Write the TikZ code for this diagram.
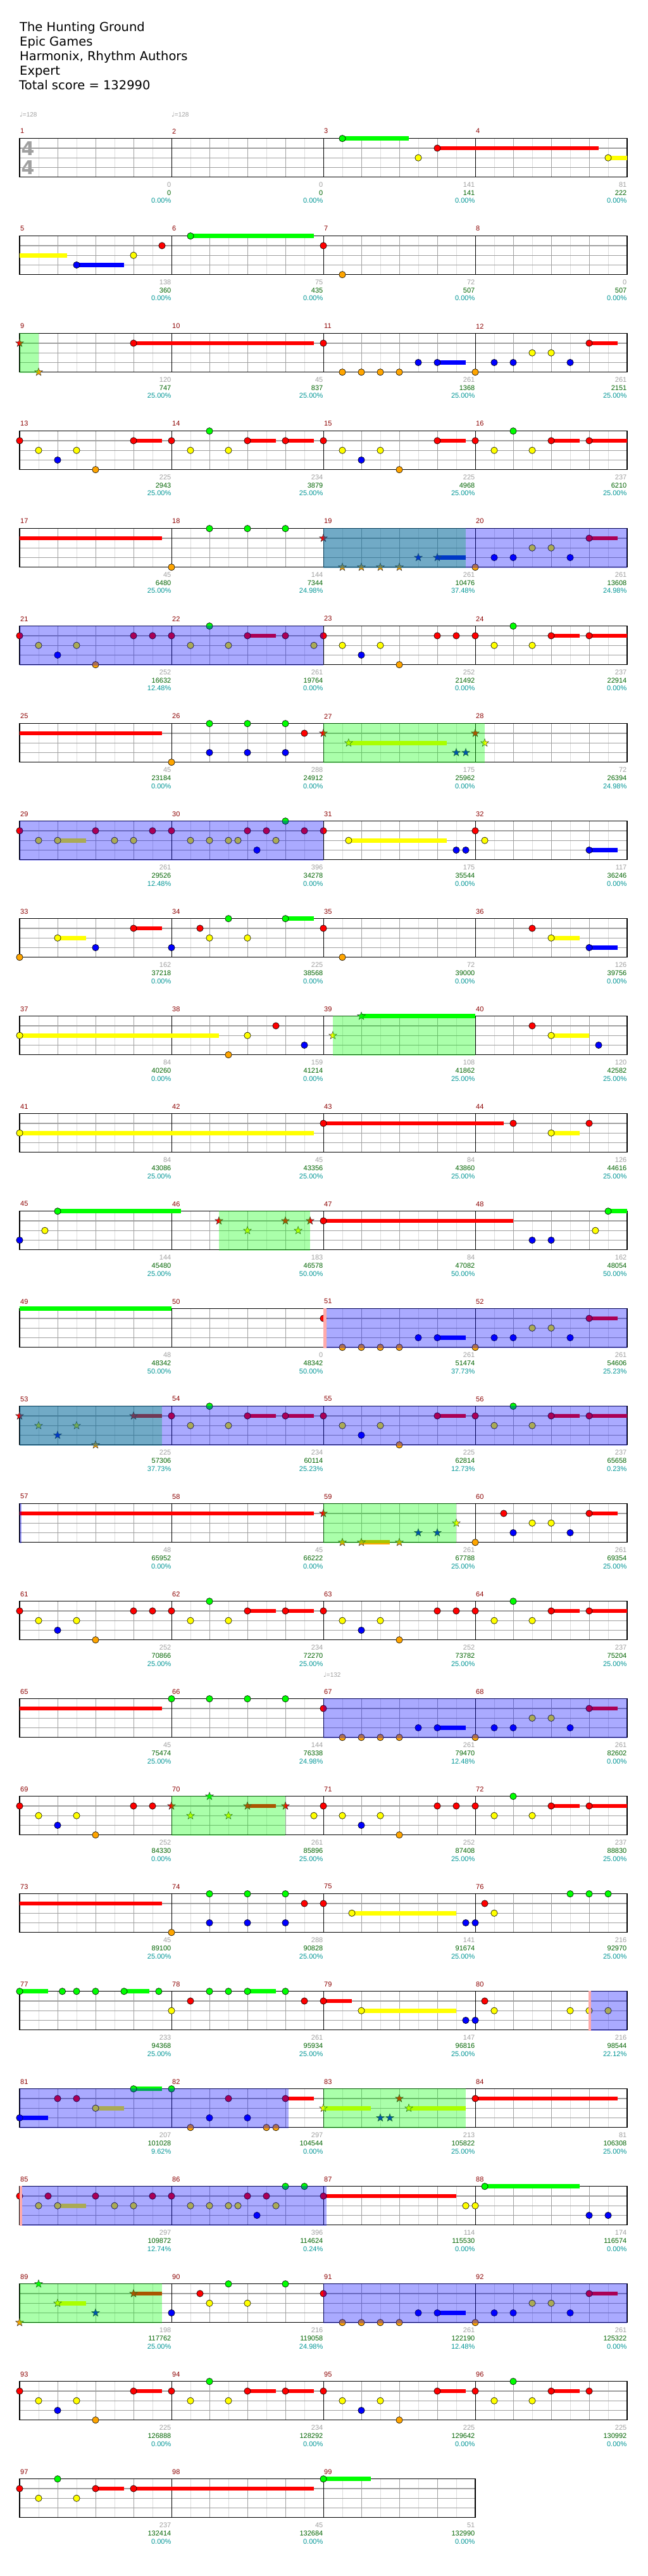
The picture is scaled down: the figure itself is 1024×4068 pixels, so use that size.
\documentclass[tikz,border=0pt]{standalone}
\usepackage{fontspec}
\setmainfont{DejaVu Sans}
\newfontfamily\numfont{Liberation Sans}
\newfontfamily\djv{DejaVu Sans}
\definecolor{lane0}{RGB}{0,255,0}
\definecolor{lane1}{RGB}{255,0,0}
\definecolor{lane2}{RGB}{255,255,0}
\definecolor{lane3}{RGB}{0,0,255}
\definecolor{lane4}{RGB}{255,165,0}
\definecolor{mnred}{RGB}{140,0,0}
\definecolor{scgray}{RGB}{160,160,160}
\definecolor{scgreen}{RGB}{0,100,0}
\definecolor{scteal}{RGB}{0,150,150}
\definecolor{gridlight}{RGB}{220,220,220}
\definecolor{gridmid}{RGB}{160,160,160}
\definecolor{pred}{RGB}{255,170,170}
\tikzset{
  nt/.style={draw=black,line width=0.6pt},
  st/.style={draw=black!80,line width=0.5pt},
  gl8/.style={draw=gridlight,line width=0.8pt},
  gl4/.style={draw=gridmid,line width=0.8pt},
  gllane/.style={draw=gridmid,line width=1.3pt},
  glm/.style={draw=black,line width=0.8pt},
  glb/.style={draw=black,line width=1.3pt},
  ovb/.style={fill=blue,fill opacity=0.333},
  ovg/.style={fill=green,fill opacity=0.333},
  ovr/.style={fill=pred},
  mnum/.style={anchor=west,inner sep=0pt,text=mnred,font=\numfont\fontsize{11}{11}\selectfont},
  scg/.style={anchor=east,inner sep=0pt,text=scgray,font=\numfont\fontsize{11}{11}\selectfont},
  scs/.style={anchor=east,inner sep=0pt,text=scgreen,font=\numfont\fontsize{11}{11}\selectfont},
  scp/.style={anchor=east,inner sep=0pt,text=scteal,font=\numfont\fontsize{11}{11}\selectfont},
  ttl/.style={anchor=base west,inner sep=0pt,font=\fontsize{19.5}{23}\selectfont},
  tmp/.style={anchor=west,inner sep=0pt,text=scgray,font=\numfont\fontsize{10}{10}\selectfont},
  tsig/.style={inner sep=0pt,text=scgray,font=\bfseries\fontsize{30}{30}\selectfont},
}
\newcommand\hgrid[2]{%
  \pgfmathtruncatemacro\hE{8*#2-1}%
  \pgfmathtruncatemacro\hEE{8*#2-2}%
  \pgfmathtruncatemacro\hM{#2-1}%
  \pgfmathsetmacro\hX{31+240*#2}%
  \foreach \e in {1,3,...,\hE}{\draw[gl8] ({31+30*\e},0) -- ({31+30*\e},61);}
  \foreach \l in {1,2,3}{\draw[gllane] (31,{15.25*\l}) -- (\hX,{15.25*\l});}
  \foreach \e in {2,4,...,\hEE}{\draw[gl4] ({31+30*\e},0) -- ({31+30*\e},61);}
  \foreach \j in {1,...,\hM}{\draw[glm] ({31+240*\j},0) -- ({31+240*\j},61);}
  \draw[glb] (31,0) rectangle (\hX,61);
  \foreach \j in {0,...,\hM}{\pgfmathtruncatemacro\mnum{#1+\j}\node[mnum] (mn\mnum) at ({32+240*\j},-11.5) {\mnum};}
}
\newcommand\hrow[3]{\begin{scope}[shift={(0,{218.7+154*#1})}]\def\rid{#1}\hgrid{#2}{#3}}
\newcommand\hend{\end{scope}}
\newcommand\hnote[2]{\filldraw[nt,fill=lane#2] ({31+30*(#1)},{15.25*(#2)}) circle (5.2);}
\newcommand\hsus[3]{\fill[lane#2] ({31+30*(#1)},{15.25*(#2)-3.3}) rectangle ({31+30*(#3)},{15.25*(#2)+3.3});}
\newcommand\hnotes[3]{\hsus{#1}{#2}{#3}\hnote{#1}{#2}}
\newcommand\hstar[2]{\filldraw[st,fill=lane#2,shift={({31+30*(#1)},{15.25*(#2)})}] (-90:6.5) -- (-54:2.7) -- (-18:6.5) -- (18:2.7) -- (54:6.5) -- (90:2.7) -- (126:6.5) -- (162:2.7) -- (198:6.5) -- (234:2.7) -- cycle;}
\newcommand\hstars[3]{\hsus{#1}{#2}{#3}\hstar{#1}{#2}}
\newcommand\hcont[2]{\hsus{0}{#1}{#2}}
\newcommand\hob[2]{\fill[ovb] ({31+30*(#1)},-0.8) rectangle ({31+30*(#2)},61.8);}
\newcommand\hog[2]{\fill[ovg] ({31+30*(#1)},-0.8) rectangle ({31+30*(#2)},61.8);}
\newcommand\hor[2]{\fill[ovr] ({31+30*(#1)},-0.8) rectangle ({31+30*(#2)},61.8);}
\newcommand\hsc[4]{%
  \node[scg] (sa\rid-#1) at ({30.5+240*#1},73) {#2};
  \node[scs] (sb\rid-#1) at ({30.5+240*#1},86) {#3};
  \node[scp] (sc\rid-#1) at ({30.5+240*#1},98.5) {#4\%};}
\newcommand\hBtail{\hnote{24}{4}\hnote{25}{3}\hnote{26}{3}\hnote{27}{2}\hnote{28}{2}\hnote{29}{3}\hnotes{30}{1}{31.5}}
\newcommand\hBpat{\hnote{16}{1}\hnote{17}{4}\hnote{18}{4}\hnote{19}{4}\hnote{20}{4}\hnote{21}{3}\hnotes{22}{3}{23.5}\hBtail}
\newcommand\hAfirst{\hnote{0}{1}\hnote{1}{2}\hnote{2}{3}\hnote{3}{2}\hnote{4}{4}}
\newcommand\hAmidA{\hnote{8}{1}\hnote{9}{2}\hnote{10}{0}\hnote{11}{2}\hnotes{12}{1}{13.5}}
\newcommand\hAsecond{\hnote{16}{1}\hnote{17}{2}\hnote{18}{3}\hnote{19}{2}\hnote{20}{4}}
\newcommand\hAendA{\hnotes{22}{1}{23.5}\hnote{24}{1}\hnote{25}{2}\hnote{26}{0}\hnote{27}{2}\hnotes{28}{1}{29.5}}
\newcommand\hAendB{\hnote{22}{1}\hnote{23}{1}\hnote{24}{1}\hnote{25}{2}\hnote{26}{0}\hnote{27}{2}\hnotes{28}{1}{29.5}}
\begin{document}
\begin{tikzpicture}[x=1pt,y=-1pt]
\useasboundingbox (0,0) rectangle (1024,4068);
\fill[white] (0,0) rectangle (1024,4068);
\node[ttl] (ti1) at (31,49.3) {The Hunting Ground};
\node[ttl] (ti2) at (31,72.4) {Epic Games};
\node[ttl] (ti3) at (31,95.5) {Harmonix, Rhythm Authors};
\node[ttl] (ti4) at (31,118.6) {Expert};
\node[ttl] (ti5) at (30,141.7) {Total score = 132990};
% row 0
\hrow{0}{1}{4}
\node[tsig] (ts1) at (44,15.5) {4};
\node[tsig] (ts2) at (44,45.5) {4};
\node[tmp] (tp1) at (31,-37.7) {{\djv ♩}=128};
\node[tmp] (tp2) at (271,-37.7) {{\djv ♩}=128};
\hnotes{17}{0}{20.5}\hnote{21}{2}\hnotes{22}{1}{30.5}\hnotes{31}{2}{32}
\hsc{1}{0}{0}{0.00}\hsc{2}{0}{0}{0.00}\hsc{3}{141}{141}{0.00}\hsc{4}{81}{222}{0.00}
\hend
% row 1
\hrow{1}{5}{4}
\hcont{2}{2.5}\hnotes{3}{3}{5.5}\hnote{6}{2}\hnote{7.5}{1}\hnotes{9}{0}{15.5}\hnote{16}{1}\hnote{17}{4}
\hsc{1}{138}{360}{0.00}\hsc{2}{75}{435}{0.00}\hsc{3}{72}{507}{0.00}\hsc{4}{0}{507}{0.00}
\hend
% row 2
\hrow{2}{9}{4}
\hstar{0}{1}\hstar{1}{4}\hnotes{6}{1}{15.5}\hBpat\hog{0}{1}
\hsc{1}{120}{747}{25.00}\hsc{2}{45}{837}{25.00}\hsc{3}{261}{1368}{25.00}\hsc{4}{261}{2151}{25.00}
\hend
% row 3
\hrow{3}{13}{4}
\hAfirst\hnotes{6}{1}{7.5}\hAmidA\hnotes{14}{1}{15.5}\hAsecond\hAendA\hnotes{30}{1}{32}
\hsc{1}{225}{2943}{25.00}\hsc{2}{234}{3879}{25.00}\hsc{3}{225}{4968}{25.00}\hsc{4}{237}{6210}{25.00}
\hend
% row 4
\hrow{4}{17}{4}
\hcont{1}{7.5}\hnote{8}{4}\hnote{10}{0}\hnote{12}{0}\hnote{14}{0}\hstar{16}{1}\hstar{17}{4}\hstar{18}{4}\hstar{19}{4}\hstar{20}{4}\hstar{21}{3}\hstars{22}{3}{23.5}\hBtail\hog{16}{23.5}\hob{16}{32}
\hsc{1}{45}{6480}{25.00}\hsc{2}{144}{7344}{24.98}\hsc{3}{261}{10476}{37.48}\hsc{4}{261}{13608}{24.98}
\hend
% row 5
\hrow{5}{21}{4}
\hAfirst\hnote{6}{1}\hnote{7}{1}\hAmidA\hnote{14}{1}\hnote{15.5}{2}\hAsecond\hAendB\hnotes{30}{1}{32}\hob{0}{16}
\hsc{1}{252}{16632}{12.48}\hsc{2}{261}{19764}{0.00}\hsc{3}{252}{21492}{0.00}\hsc{4}{237}{22914}{0.00}
\hend
% row 6
\hrow{6}{25}{4}
\hcont{1}{7.5}\hnote{8}{4}\hnote{10}{0}\hnote{12}{0}\hnote{14}{0}\hnote{10}{3}\hnote{12}{3}\hnote{14}{3}\hnote{15}{1}\hstar{16}{1}\hstars{17.33}{2}{22.5}\hstar{23}{3}\hstar{23.5}{3}\hstar{24}{1}\hstar{24.5}{2}\hog{16}{24.5}
\hsc{1}{45}{23184}{0.00}\hsc{2}{288}{24912}{0.00}\hsc{3}{175}{25962}{0.00}\hsc{4}{72}{26394}{24.98}
\hend
% row 7
\hrow{7}{29}{4}
\hnote{0}{1}\hnote{1}{2}\hnotes{2}{2}{3.5}\hnote{4}{1}\hnote{5}{2}\hnote{6}{2}\hnote{7}{1}\hnote{8}{1}\hnote{9}{2}\hnote{10}{2}\hnote{11}{2}\hnote{11.5}{2}\hnote{12}{1}\hnote{12.5}{3}\hnote{13}{1}\hnote{13.5}{2}\hnote{14}{0}\hnote{15}{1}\hnote{16}{1}\hnotes{17.33}{2}{22.5}\hnote{23}{3}\hnote{23.5}{3}\hnote{24}{1}\hnote{24.5}{2}\hnotes{30}{3}{31.5}\hob{0}{16}
\hsc{1}{261}{29526}{12.48}\hsc{2}{396}{34278}{0.00}\hsc{3}{175}{35544}{0.00}\hsc{4}{117}{36246}{0.00}
\hend
% row 8
\hrow{8}{33}{4}
\hnote{0}{4}\hnotes{2}{2}{3.5}\hnote{4}{3}\hnotes{6}{1}{7.5}\hnote{8}{3}\hnote{9.5}{1}\hnote{10}{2}\hnote{11}{0}\hnote{12}{2}\hnotes{14}{0}{15.5}\hnote{16}{1}\hnote{17}{4}\hnote{27}{1}\hnotes{28}{2}{29.5}\hnotes{30}{3}{31.5}
\hsc{1}{162}{37218}{0.00}\hsc{2}{225}{38568}{0.00}\hsc{3}{72}{39000}{0.00}\hsc{4}{126}{39756}{0.00}
\hend
% row 9
\hrow{9}{37}{4}
\hnotes{0}{2}{10.5}\hnote{11}{4}\hnote{12}{2}\hnote{13.5}{1}\hnote{15}{3}\hstar{16.5}{2}\hstars{18}{0}{24}\hnote{27}{1}\hnotes{28}{2}{30}\hnote{30.5}{3}\hog{16.5}{24}
\hsc{1}{84}{40260}{0.00}\hsc{2}{159}{41214}{0.00}\hsc{3}{108}{41862}{25.00}\hsc{4}{120}{42582}{25.00}
\hend
% row 10
\hrow{10}{41}{4}
\hnotes{0}{2}{15.5}\hnotes{16}{1}{25.5}\hnote{26}{1}\hnotes{28}{2}{29.5}\hnote{30}{1}
\hsc{1}{84}{43086}{25.00}\hsc{2}{45}{43356}{25.00}\hsc{3}{84}{43860}{25.00}\hsc{4}{126}{44616}{25.00}
\hend
% row 11
\hrow{11}{45}{4}
\hnote{0}{3}\hnote{1.33}{2}\hnotes{2}{0}{8.5}\hstar{10.5}{1}\hstar{12}{2}\hstar{14}{1}\hstar{14.67}{2}\hstar{15.3}{1}\hnotes{16}{1}{26}\hnote{27}{3}\hnote{28}{3}\hnote{30.33}{2}\hnotes{31}{0}{32}\hog{10.5}{15.3}
\hsc{1}{144}{45480}{25.00}\hsc{2}{183}{46578}{50.00}\hsc{3}{84}{47082}{50.00}\hsc{4}{162}{48054}{50.00}
\hend
% row 12
\hrow{12}{49}{4}
\hcont{0}{8}\hBpat\hor{16}{16.15}\hob{16.15}{32}
\hsc{1}{48}{48342}{50.00}\hsc{2}{0}{48342}{50.00}\hsc{3}{261}{51474}{37.73}\hsc{4}{261}{54606}{25.23}
\hend
% row 13
\hrow{13}{53}{4}
\hstar{0}{1}\hstar{1}{2}\hstar{2}{3}\hstar{3}{2}\hstar{4}{4}\hstars{6}{1}{7.5}\hAmidA\hnotes{14}{1}{15.5}\hAsecond\hAendA\hnotes{30}{1}{32}\hog{0}{7.5}\hob{0}{32}
\hsc{1}{225}{57306}{37.73}\hsc{2}{234}{60114}{25.23}\hsc{3}{225}{62814}{12.73}\hsc{4}{237}{65658}{0.23}
\hend
% row 14
\hrow{14}{57}{4}
\hcont{1}{15.5}\hstar{16}{1}\hstar{17}{4}\hstars{18}{4}{19.5}\hstar{20}{4}\hstar{21}{3}\hstar{22}{3}\hstar{23}{2}\hnote{24}{4}\hnote{25.5}{1}\hnote{26}{3}\hnote{27}{2}\hnote{28}{2}\hnote{29}{3}\hnotes{30}{1}{31.5}\hog{16}{23}\hob{0}{0.1}
\hsc{1}{48}{65952}{0.00}\hsc{2}{45}{66222}{0.00}\hsc{3}{261}{67788}{25.00}\hsc{4}{261}{69354}{25.00}
\hend
% row 15
\hrow{15}{61}{4}
\hAfirst\hnote{6}{1}\hnote{7}{1}\hAmidA\hnotes{14}{1}{15.5}\hAsecond\hAendB\hnotes{30}{1}{32}
\hsc{1}{252}{70866}{25.00}\hsc{2}{234}{72270}{25.00}\hsc{3}{252}{73782}{25.00}\hsc{4}{237}{75204}{25.00}
\hend
% row 16
\hrow{16}{65}{4}
\node[tmp] (tp3) at (511,-37.7) {{\djv ♩}=132};
\hcont{1}{7.5}\hnote{8}{0}\hnote{10}{0}\hnote{12}{0}\hnote{14}{0}\hBpat\hob{16}{32}
\hsc{1}{45}{75474}{25.00}\hsc{2}{144}{76338}{24.98}\hsc{3}{261}{79470}{12.48}\hsc{4}{261}{82602}{0.00}
\hend
% row 17
\hrow{17}{69}{4}
\hAfirst\hnote{6}{1}\hnote{7}{1}\hstar{8}{1}\hstar{9}{2}\hstar{10}{0}\hstar{11}{2}\hstars{12}{1}{13.5}\hstar{14}{1}\hnote{15.5}{2}\hAsecond\hAendB\hnotes{30}{1}{32}\hog{8}{14}
\hsc{1}{252}{84330}{0.00}\hsc{2}{261}{85896}{25.00}\hsc{3}{252}{87408}{25.00}\hsc{4}{237}{88830}{25.00}
\hend
% row 18
\hrow{18}{73}{4}
\hcont{1}{7.5}\hnote{8}{4}\hnote{10}{0}\hnote{12}{0}\hnote{14}{0}\hnote{10}{3}\hnote{12}{3}\hnote{14}{3}\hnote{15}{1}\hnote{16}{1}\hnotes{17.5}{2}{23}\hnote{23.5}{3}\hnote{24}{3}\hnote{24.5}{1}\hnote{25}{2}\hnote{29}{0}\hnote{30}{0}\hnote{31}{0}
\hsc{1}{45}{89100}{25.00}\hsc{2}{288}{90828}{25.00}\hsc{3}{141}{91674}{25.00}\hsc{4}{216}{92970}{25.00}
\hend
% row 19
\hrow{19}{77}{4}
\hnotes{0}{0}{1.5}\hnote{2.25}{0}\hnote{3}{0}\hnote{4}{0}\hnotes{5.5}{0}{6.83}\hnote{7.33}{0}\hnote{8}{2}\hnote{9}{1}\hnote{10}{0}\hnote{11}{0}\hnotes{12}{0}{13.5}\hnote{14}{0}\hnote{15}{1}\hnotes{16}{1}{17.5}\hnotes{18}{2}{23}\hnote{23.5}{3}\hnote{24}{3}\hnote{24.5}{1}\hnote{25}{2}\hnote{29}{2}\hnote{30}{2}\hnote{31}{2}\hor{29.95}{30.1}\hob{30.1}{32}
\hsc{1}{233}{94368}{25.00}\hsc{2}{261}{95934}{25.00}\hsc{3}{147}{96816}{25.00}\hsc{4}{216}{98544}{22.12}
\hend
% row 20
\hrow{20}{81}{4}
\hnotes{0}{3}{1.5}\hnote{2}{1}\hnote{3}{1}\hnotes{4}{2}{5.5}\hnotes{6}{0}{7.5}\hnote{8}{0}\hnote{9}{4}\hnote{10}{3}\hnote{11}{1}\hnote{12}{3}\hnote{13}{4}\hnote{13.5}{4}\hnotes{14}{1}{15.5}\hstars{16}{2}{18.5}\hstar{19}{3}\hstar{19.5}{3}\hstar{20}{1}\hstars{20.5}{2}{23.5}\hnotes{24}{1}{31.5}\hob{0}{14.15}\hog{16}{23.5}
\hsc{1}{207}{101028}{9.62}\hsc{2}{297}{104544}{0.00}\hsc{3}{213}{105822}{25.00}\hsc{4}{81}{106308}{25.00}
\hend
% row 21
\hrow{21}{85}{4}
\hnote{0}{1}\hnote{1}{2}\hnote{1.5}{1}\hnotes{2}{2}{3.5}\hnote{4}{1}\hnote{5}{2}\hnote{6}{2}\hnote{7}{1}\hnote{8}{1}\hnote{9}{2}\hnote{10}{2}\hnote{11}{2}\hnote{11.5}{2}\hnote{12}{1}\hnote{12.5}{3}\hnote{13}{1}\hnote{13.5}{2}\hnote{14}{0}\hnote{15}{0}\hnotes{16}{1}{23}\hnote{23.5}{2}\hnote{24}{2}\hnotes{24.5}{0}{29.5}\hnote{30}{3}\hnote{31}{3}\hor{0}{0.12}\hob{0.12}{16.15}
\hsc{1}{297}{109872}{12.74}\hsc{2}{396}{114624}{0.24}\hsc{3}{114}{115530}{0.00}\hsc{4}{174}{116574}{0.00}
\hend
% row 22
\hrow{22}{89}{4}
\hstar{0}{4}\hstar{1}{0}\hstars{2}{2}{3.5}\hstar{4}{3}\hstars{6}{1}{7.5}\hnote{8}{3}\hnote{9.5}{1}\hnote{10}{2}\hnote{11}{0}\hnote{12}{2}\hnote{14}{0}\hBpat\hog{0}{7.5}\hob{16}{32}
\hsc{1}{198}{117762}{25.00}\hsc{2}{216}{119058}{24.98}\hsc{3}{261}{122190}{12.48}\hsc{4}{261}{125322}{0.00}
\hend
% row 23
\hrow{23}{93}{4}
\hAfirst\hnotes{6}{1}{7.5}\hAmidA\hnotes{14}{1}{15.5}\hAsecond\hAendA\hnote{30}{1}
\hsc{1}{225}{126888}{0.00}\hsc{2}{234}{128292}{0.00}\hsc{3}{225}{129642}{0.00}\hsc{4}{225}{130992}{0.00}
\hend
% row 24
\hrow{24}{97}{3}
\hnote{0}{1}\hnote{1}{2}\hnote{2}{0}\hnote{3}{2}\hnotes{4}{1}{5.5}\hnotes{6}{1}{15.5}\hnotes{16}{0}{18.5}
\hsc{1}{237}{132414}{0.00}\hsc{2}{45}{132684}{0.00}\hsc{3}{51}{132990}{0.00}
\hend
\end{tikzpicture}
\end{document}
